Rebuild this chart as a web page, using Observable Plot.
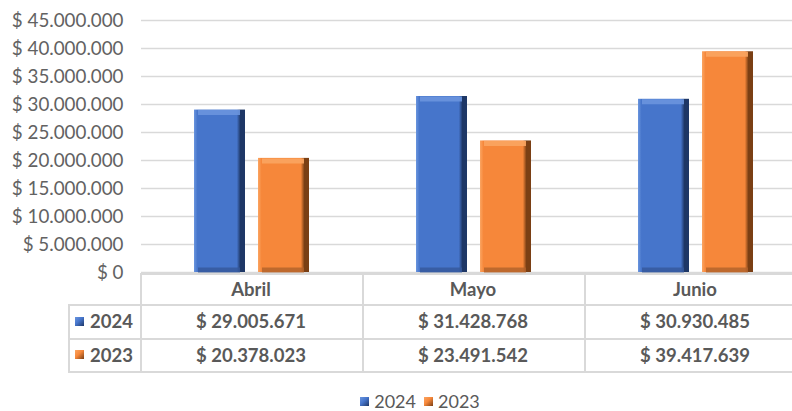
<!DOCTYPE html>
<html><head><meta charset="utf-8">
<script src="https://cdn.jsdelivr.net/npm/d3@7"></script>
<script src="https://cdn.jsdelivr.net/npm/@observablehq/plot@0.6"></script>
<style>
html,body{margin:0;padding:0;background:#fff;overflow:hidden}
body{width:792px;height:411px;font-family:Lato,"Noto Sans",sans-serif;color:#595959}
#wrap{position:relative;width:808px;height:411px}
#chart{position:absolute;left:0;top:0}
.ln{position:absolute;background:#d9d9d9}
.cell{position:absolute;display:flex;align-items:center;justify-content:center;font-weight:bold;font-size:18.5px;color:#595959;white-space:nowrap}
.mk{display:inline-block;width:9px;height:9px;margin-right:6px}
#legend{position:absolute;top:393px;left:340px;width:160px;height:17px;line-height:17px;display:flex;justify-content:center;font-size:18px;color:#595959}
#legend span.it{display:flex;align-items:center;margin:0 4px}
</style></head><body><div id="wrap"><div id="chart"></div></div>
<script>
const months = ["Abril", "Mayo", "Junio"];
const series = ["2024", "2023"];
const values2024 = [29005671, 31428768, 30930485];
const values2023 = [20378023, 23491542, 39417639];
const yTicks = [0, 5000000, 10000000, 15000000, 20000000, 25000000, 30000000, 35000000, 40000000, 45000000];
const faceColors = {"2024": "#4675CB", "2023": "#F6873A"};
const lightColors = {"2024": "#6A95DE", "2023": "#FBA562"};
const darkColors = {"2024": "#1E3766", "2023": "#7A3F14"};
const bottomColors = {"2024": "#34579A", "2023": "#B0612A"};

const locale = d3.formatLocale({decimal: ",", thousands: ".", grouping: [3], currency: ["$ ", ""]});
const fmt = locale.format("$,.0f");

const seriesValues = {"2024": values2024, "2023": values2023};
const data = months.flatMap((m, i) => series.map(s => ({month: m, year: s, value: seriesValues[s][i]})));

const barsFor = s => Plot.barY(data.filter(d => d.year === s), {fx: "month", x: "year", y: "value", fill: `url(#g${s})`});
const topFor = s => Plot.tickY(data.filter(d => d.year === s), {fx: "month", x: "year", y: "value", stroke: lightColors[s], strokeWidth: 5, dy: 2.5, insetLeft: 4, insetRight: 5, strokeOpacity: 0.9});
const botFor = s => Plot.tickY(data.filter(d => d.year === s), {fx: "month", x: "year", y: d => 0, stroke: bottomColors[s], strokeWidth: 5, dy: -2.5, insetLeft: 4, insetRight: 5, strokeOpacity: 0.8});

const chart = Plot.plot({
  width: 808, height: 274,
  marginTop: 20, marginBottom: 2, marginLeft: 140, marginRight: 0,
  style: {fontFamily: "Lato, 'Noto Sans', sans-serif", color: "#595959", background: "transparent", overflow: "visible"},
  fx: {domain: months, padding: 0, axis: null, label: null},
  x: {domain: series, paddingInner: 0.2, paddingOuter: 0.82, axis: null, label: null},
  y: {domain: [0, 45000000], axis: null, label: null},
  marks: [
    Plot.gridY(yTicks, {stroke: "#d9d9d9", strokeOpacity: 1, strokeWidth: 1.6}),
    Plot.axisY(yTicks, {tickFormat: fmt, tickSize: 0, tickPadding: 18, fontSize: 18.8, fill: "#626262", label: null}),
    ...series.map(barsFor),
    ...series.map(topFor),
    ...series.map(botFor)
  ]
});

const defs = d3.select(chart).insert("defs", ":first-child");
series.forEach(s => {
  const g = defs.append("linearGradient").attr("id", "g" + s).attr("x1", 0).attr("x2", 1).attr("y1", 0).attr("y2", 0);
  [[0, lightColors[s]], [0.07, faceColors[s]], [0.84, faceColors[s]], [0.91, darkColors[s]], [1, darkColors[s]]]
    .forEach(([o, c]) => g.append("stop").attr("offset", o).attr("stop-color", c));
});
document.getElementById("chart").appendChild(chart);

// data table below the chart, aligned to the fx scale
const wrap = document.getElementById("wrap");
const fx = chart.scale("fx");
const bw = fx.bandwidth;
const x0 = fx.range[0];
const tableLeft = 68;
const rowY = [273, 304, 338, 371];
function line(l, t, w, h) {
  const d = document.createElement("div"); d.className = "ln";
  Object.assign(d.style, {left: l + "px", top: t + "px", width: w + "px", height: h + "px"});
  wrap.appendChild(d);
}
function cell(l, t, w, h, html) {
  const d = document.createElement("div"); d.className = "cell";
  Object.assign(d.style, {left: l + "px", top: t + "px", width: w + "px", height: h + "px"});
  d.innerHTML = html; wrap.appendChild(d);
}
const right = x0 + bw * months.length;
line(x0, rowY[0], right - x0, 2);
for (let r = 1; r < rowY.length; r++) line(tableLeft, rowY[r], right - tableLeft, 2);
line(tableLeft, rowY[1], 2, rowY[3] - rowY[1] + 2);
for (let i = 0; i < months.length; i++) line(x0 + i * bw, rowY[0], 2, rowY[3] - rowY[0] + 2);

const mkStyle = s => `background:linear-gradient(135deg, ${lightColors[s]} 0%, ${faceColors[s]} 45%, ${darkColors[s]} 100%)`;
months.forEach((m, i) => cell(x0 + i * bw, rowY[0], bw, rowY[1] - rowY[0], m));
series.forEach((s, r) => {
  cell(tableLeft, rowY[r + 1], x0 - tableLeft, rowY[r + 2] - rowY[r + 1], `<span class="mk" style="${mkStyle(s)}"></span>${s}`);
  months.forEach((m, i) => cell(x0 + i * bw, rowY[r + 1], bw, rowY[r + 2] - rowY[r + 1], fmt(seriesValues[s][i])));
});

const legend = document.createElement("div"); legend.id = "legend";
legend.innerHTML = series.map(s => `<span class="it"><span class="mk" style="${mkStyle(s)};margin-right:5px"></span>${s}</span>`).join("");
wrap.appendChild(legend);
</script>
</body></html>
